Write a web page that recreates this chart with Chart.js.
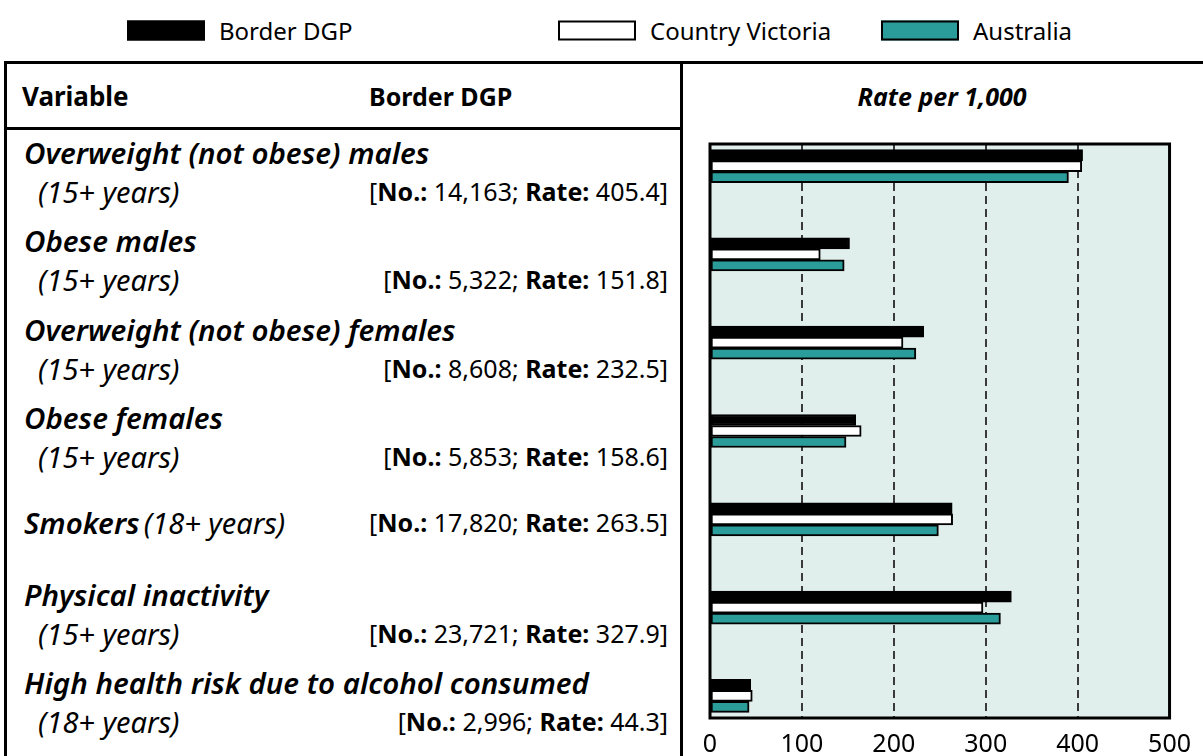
<!DOCTYPE html>
<html>
<head>
<meta charset="utf-8">
<script src="https://cdn.jsdelivr.net/npm/chart.js@4"></script>
<style>
    html, body { margin: 0; padding: 0; background: #fff; }
    body {
        width: 1203px; height: 756px; position: relative; overflow: hidden;
        font-family: "Noto Sans", sans-serif; color: #000;
    }
    .abs { position: absolute; white-space: nowrap; transform: translateY(-50%); }
    .line { position: absolute; background: #000; }
    .title { font-size: 29.5px; font-weight: 600; font-style: italic; }
    .age { font-size: 29px; font-style: italic; }
    .stat { font-size: 25px; }
    .head { font-size: 25px; font-weight: bold; }
    .legend-item { position: absolute; top: 30px; transform: translateY(-50%); font-size: 24px; white-space: nowrap; }
    .legend-box { position: absolute; width: 74px; height: 16px; border: 2px solid #000; top: 50%; transform: translateY(-50%); }
    #chartWrap { position: absolute; left: 682px; top: 129px; width: 521px; height: 627px; }
</style>
</head>
<body>
<div id="legend"></div>

<!-- table frame -->
<div class="line" style="left:4px; top:61px; width:1199px; height:3px;"></div>
<div class="line" style="left:4px; top:61px; width:3px; height:695px;"></div>
<div class="line" style="left:680px; top:61px; width:3px; height:695px;"></div>
<div class="line" style="left:4px; top:127px; width:679px; height:3px;"></div>

<div class="abs head" style="left:22px; top:96px; font-size:26px;">Variable</div>
<div class="abs head" style="left:369px; top:96px;">Border DGP</div>
<div class="abs head" style="left:942px; top:96px; font-style:italic; transform:translate(-50%,-50%);">Rate per 1,000</div>

<div id="rows"></div>

<div id="chartWrap"><canvas id="rateChart"></canvas></div>

<script>
// Data
const categories = [
    'Overweight (not obese) males',
    'Obese males',
    'Overweight (not obese) females',
    'Obese females',
    'Smokers',
    'Physical inactivity',
    'High health risk due to alcohol consumed'
];
const ageGroups = ['(15+ years)', '(15+ years)', '(15+ years)', '(15+ years)', '(18+ years)', '(15+ years)', '(18+ years)'];
const borderCounts = ['14,163', '5,322', '8,608', '5,853', '17,820', '23,721', '2,996'];
const borderRates = [405.4, 151.8, 232.5, 158.6, 263.5, 327.9, 44.3];
const countryVicRates = [404.5, 120, 210, 164.5, 264, 297, 46];
const australiaRates = [390, 146, 224, 148, 248.5, 316, 42.5];
const xTicks = [0, 100, 200, 300, 400, 500];

const seriesNames = ['Border DGP', 'Country Victoria', 'Australia'];
const seriesColors = ['#000000', '#ffffff', '#2a9d9b'];

// age shown on the same line as the title for smokers
const inlineAge = [false, false, false, false, true, false, false];

function toPoints(values) {
    return values.map((v, i) => ({ x: v, y: i }));
}

// Plot background + frame
const framePlugin = {
    id: 'frame',
    beforeDraw(chart) {
        const { ctx, chartArea: a } = chart;
        ctx.save();
        ctx.fillStyle = '#e0eeec';
        ctx.fillRect(a.left, a.top, a.right - a.left, a.bottom - a.top);
        ctx.restore();
    },
    afterDraw(chart) {
        const { ctx, chartArea: a } = chart;
        ctx.save();
        ctx.strokeStyle = '#000';
        ctx.lineWidth = 3;
        ctx.strokeRect(a.left, a.top, a.right - a.left, a.bottom - a.top);
        ctx.restore();
    }
};

const ctx = document.getElementById('rateChart').getContext('2d');
const chart = new Chart(ctx, {
    type: 'bar',
    data: {
        datasets: [borderRates, countryVicRates, australiaRates].map((vals, i) => ({
            label: seriesNames[i],
            data: toPoints(vals),
            backgroundColor: seriesColors[i],
            borderColor: '#000',
            borderWidth: 2,
            borderSkipped: false,
            barThickness: 11
        }))
    },
    options: {
        indexAxis: 'y',
        responsive: true,
        maintainAspectRatio: false,
        animation: false,
        layout: { padding: { left: 28, right: 33, top: 15, bottom: 0 } },
        plugins: {
            legend: { display: false },
            tooltip: { enabled: false }
        },
        scales: {
            x: {
                type: 'linear',
                min: 0,
                max: 500,
                afterBuildTicks: (scale) => { scale.ticks = xTicks.map(v => ({ value: v })); },
                afterFit: (scale) => { scale.height = 38; },
                ticks: {
                    color: '#000',
                    padding: 12,
                    font: { family: '"Noto Sans", sans-serif', size: 25 }
                },
                grid: {
                    drawTicks: false,
                    lineWidth: 2,
                    color: (c) => (c.tick && (c.tick.value === 0 || c.tick.value === 500)) ? 'rgba(0,0,0,0)' : '#3a3a3a'
                },
                border: { display: false, dash: [8, 5] }
            },
            y: {
                type: 'linear',
                min: -0.25,
                max: 6.25,
                offset: false,
                reverse: true,
                display: false
            }
        }
    },
    plugins: [framePlugin]
});

// Legend built from the datasets
const legendEl = document.getElementById('legend');
const legendX = [127, 558, 881];
chart.data.datasets.forEach((ds, i) => {
    const item = document.createElement('div');
    item.className = 'legend-item';
    item.style.left = legendX[i] + 'px';
    item.innerHTML = '<span class="legend-box" style="left:0;background:' + ds.backgroundColor + '"></span>' +
        '<span style="margin-left:92px">' + ds.label + '</span>';
    legendEl.appendChild(item);
});

// Table rows aligned to the bar groups
const rowsEl = document.getElementById('rows');
const yScale = chart.scales.y;
const wrapTop = 129;
categories.forEach((cat, i) => {
    const cy = wrapTop + yScale.getPixelForValue(i);
    const stat = '[<b>No.:</b> ' + borderCounts[i] + '; <b>Rate:</b> ' + borderRates[i].toFixed(1) + ']';
    if (inlineAge[i]) {
        rowsEl.insertAdjacentHTML('beforeend',
            '<div class="abs" style="left:24px; top:' + (cy + 3) + 'px;"><span class="title">' + cat +
            '</span> <span class="age">' + ageGroups[i] + '</span></div>' +
            '<div class="abs stat" style="right:535px; top:' + (cy + 3) + 'px;">' + stat + '</div>');
    } else {
        rowsEl.insertAdjacentHTML('beforeend',
            '<div class="abs title" style="left:24px; top:' + (cy - 14) + 'px;">' + cat + '</div>' +
            '<div class="abs age" style="left:38px; top:' + (cy + 25) + 'px;">' + ageGroups[i] + '</div>' +
            '<div class="abs stat" style="right:535px; top:' + (cy + 25) + 'px;">' + stat + '</div>');
    }
});
</script>
</body>
</html>
